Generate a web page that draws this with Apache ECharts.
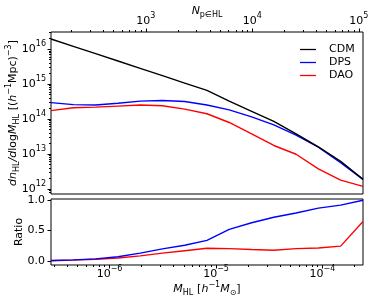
<!DOCTYPE html>
<html><head><meta charset="utf-8">
<script src="https://cdn.jsdelivr.net/npm/echarts@6/dist/echarts.min.js"></script>
<style>html,body{margin:0;padding:0;background:#fff}#c{width:374px;height:301px}</style>
</head><body><div id="c"></div>
<script>
// ---- data ----
const massBins = [2.82e-7, 4.57e-7, 7.40e-7, 1.20e-6, 1.94e-6, 3.14e-6, 5.08e-6, 8.22e-6, 1.33e-5, 2.16e-5, 3.49e-5, 5.65e-5, 9.14e-5, 1.48e-4, 2.40e-4];
const cdmValues = [1.95e16, 1.20e16, 7.41e15, 4.57e15, 2.82e15, 1.74e15, 1.07e15, 6.61e14, 3.24e14, 1.66e14, 8.51e13, 3.72e13, 1.58e13, 6.17e12, 1.86e12];
const dpsValues = [2.95e14, 2.57e14, 2.51e14, 2.82e14, 3.24e14, 3.39e14, 3.16e14, 2.51e14, 1.82e14, 1.15e14, 6.76e13, 3.47e13, 1.55e13, 5.62e12, 1.86e12];
const daoValues = [1.74e14, 2.09e14, 2.19e14, 2.34e14, 2.51e14, 2.40e14, 1.91e14, 1.41e14, 7.94e13, 3.72e13, 1.74e13, 9.77e12, 3.72e12, 1.78e12, 1.17e12];
const dpsRatio = [0.01, 0.02, 0.035, 0.07, 0.13, 0.20, 0.26, 0.34, 0.52, 0.63, 0.72, 0.79, 0.87, 0.92, 1.0];
const daoRatio = [0.005, 0.015, 0.03, 0.05, 0.085, 0.13, 0.17, 0.21, 0.205, 0.19, 0.177, 0.205, 0.215, 0.245, 0.65];
const massTicks = [1e-6, 1e-5, 1e-4];
const densityTicks = [1e12, 1e13, 1e14, 1e15, 1e16];
const npTicks = [1e3, 1e4, 1e5];
const ratioTicks = [0, 0.5, 1.0];
const massRange = [2.82e-7, 2.40e-4];
const densityRange = [7.1e11, 3.1e16];
const ratioRange = [-0.065, 1.02];
const particleMass = 2.19e-9;

const lg = Math.log10;
function minorLogs(lo, hi) {
  const out = [];
  for (let e = Math.floor(lo) - 1; e <= Math.ceil(hi); e++)
    for (let k = 2; k <= 9; k++) { const v = e + lg(k); if (v > lo && v < hi) out.push(v); }
  return out;
}
function powLabel(v) {
  const n = Math.round(v);
  return '{b|10}{s|' + (n < 0 ? '\u2212' + (-n) : n) + '}';
}
const powRich = {
  b: {fontSize: 11, lineHeight: 18, color: '#000', fontFamily: 'DejaVu Sans'},
  s: {fontSize: 8, lineHeight: 8, verticalAlign: 'top', color: '#000', fontFamily: 'DejaVu Sans'}
};
const nameRich = {
  i: {fontSize: 11, fontStyle: 'italic', lineHeight: 16, color: '#000', fontFamily: 'DejaVu Sans'},
  r: {fontSize: 11, lineHeight: 16, color: '#000', fontFamily: 'DejaVu Sans'},
  sub: {fontSize: 8, lineHeight: 10, verticalAlign: 'bottom', color: '#000', fontFamily: 'DejaVu Sans'},
  sup: {fontSize: 8, lineHeight: 8, verticalAlign: 'top', color: '#000', fontFamily: 'DejaVu Sans'}
};

const xr = [lg(massRange[0]), lg(massRange[1])];
const yr = [lg(densityRange[0]), lg(densityRange[1])];
const npr = [lg(massRange[0] / particleMass), lg(massRange[1] / particleMass)];

const tickBase = {show: true, lineStyle: {color: '#000', width: 1}};
function axisCommon(extra) {
  return Object.assign({
    type: 'value', axisLine: {show: false, onZero: false}, splitLine: {show: false},
    axisTick: {show: false}, axisLabel: {show: false}, nameMoveOverlap: false
  }, extra);
}

const chart = echarts.init(document.getElementById('c'), null, {renderer: 'canvas'});
const pairs = (ys, f) => massBins.map((m, i) => [lg(m), f(ys[i])]);
const lineStyle = c => ({color: c, width: 1.4});
const legendLine = 'path://M0,0 L20,0 L20,1.6 L0,1.6 Z';

chart.setOption({
  animation: false,
  textStyle: {fontFamily: 'DejaVu Sans', color: '#000'},
  grid: [
    {left: 51, top: 32, width: 312, height: 162, show: true, borderColor: '#000', borderWidth: 1, backgroundColor: 'transparent', outerBoundsMode: 'none', containLabel: false},
    {left: 51, top: 199, width: 312, height: 66, show: true, borderColor: '#000', borderWidth: 1, backgroundColor: 'transparent', outerBoundsMode: 'none', containLabel: false}
  ],
  legend: {
    data: ['CDM', 'DPS', 'DAO'], orient: 'vertical', left: 295, top: 39,
    icon: legendLine,
    itemWidth: 16, itemHeight: 14, itemGap: 2,
    textStyle: {fontSize: 11, color: '#000', padding: [0, 0, 0, 8]}
  },
  xAxis: [
    axisCommon({gridIndex: 0, position: 'bottom', min: xr[0], max: xr[1]}),
    axisCommon({gridIndex: 0, position: 'top', min: npr[0], max: npr[1],
      axisTick: Object.assign({length: 3.5, customValues: npTicks.map(lg)}, tickBase),
      axisLabel: {show: true, margin: 2, customValues: npTicks.map(lg), formatter: powLabel, rich: powRich},
      name: '{i|N}{sub|p\u2208HL}', nameLocation: 'middle', nameGap: 13, nameTextStyle: {rich: nameRich}}),
    axisCommon({gridIndex: 0, position: 'top', min: npr[0], max: npr[1],
      axisTick: Object.assign({length: 2, customValues: minorLogs(npr[0], npr[1])}, tickBase)}),
    axisCommon({gridIndex: 1, position: 'bottom', min: xr[0], max: xr[1],
      axisTick: Object.assign({length: 3.5, customValues: massTicks.map(lg)}, tickBase),
      axisLabel: {show: true, margin: 0, customValues: massTicks.map(lg), formatter: powLabel, rich: powRich},
      name: '{i|M}{sub|HL} {r|[}{i|h}{sup|\u22121}{i|M}{sub|\u2299}{r|]}', nameLocation: 'middle', nameGap: 16, nameTextStyle: {rich: nameRich}}),
    axisCommon({gridIndex: 1, position: 'bottom', min: xr[0], max: xr[1],
      axisTick: Object.assign({length: 2, customValues: minorLogs(xr[0], xr[1])}, tickBase)})
  ],
  yAxis: [
    axisCommon({gridIndex: 0, position: 'left', min: yr[0], max: yr[1],
      axisTick: Object.assign({length: 3.5, customValues: densityTicks.map(lg)}, tickBase),
      axisLabel: {show: true, margin: 5, customValues: densityTicks.map(lg), formatter: powLabel, rich: powRich},
      name: '{i|dn}{sub|HL}{i|/d}{r|log}{i|M}{sub|HL} {r|[(}{i|h}{sup|\u22121}{r|Mpc)}{sup|\u22123}{r|]}',
      nameLocation: 'middle', nameRotate: 90, nameGap: 30, nameTextStyle: {rich: nameRich}}),
    axisCommon({gridIndex: 0, position: 'left', min: yr[0], max: yr[1],
      axisTick: Object.assign({length: 2, customValues: minorLogs(yr[0], yr[1])}, tickBase)}),
    axisCommon({gridIndex: 1, position: 'left', min: ratioRange[0], max: ratioRange[1],
      axisTick: Object.assign({length: 3.5, customValues: ratioTicks}, tickBase),
      axisLabel: {show: true, margin: 6, fontSize: 11, color: '#000', customValues: ratioTicks, formatter: v => v.toFixed(1)},
      name: 'Ratio', nameLocation: 'middle', nameRotate: 90, nameGap: 26, nameTextStyle: {fontSize: 11, color: '#000'}})
  ],
  series: [
    {name: 'CDM', type: 'line', xAxisIndex: 0, yAxisIndex: 0, symbol: 'none', lineStyle: lineStyle('#000000'), itemStyle: {color: '#000000'}, data: pairs(cdmValues, lg), z: 3},
    {name: 'DPS', type: 'line', xAxisIndex: 0, yAxisIndex: 0, symbol: 'none', lineStyle: lineStyle('#0000ff'), itemStyle: {color: '#0000ff'}, data: pairs(dpsValues, lg), z: 2},
    {name: 'DAO', type: 'line', xAxisIndex: 0, yAxisIndex: 0, symbol: 'none', lineStyle: lineStyle('#ff0000'), itemStyle: {color: '#ff0000'}, data: pairs(daoValues, lg), z: 1},
    {name: 'DPS', type: 'line', xAxisIndex: 3, yAxisIndex: 2, symbol: 'none', lineStyle: lineStyle('#0000ff'), itemStyle: {color: '#0000ff'}, data: pairs(dpsRatio, v => v), z: 2},
    {name: 'DAO', type: 'line', xAxisIndex: 3, yAxisIndex: 2, symbol: 'none', lineStyle: lineStyle('#ff0000'), itemStyle: {color: '#ff0000'}, data: pairs(daoRatio, v => v), z: 1}
  ]
});
</script></body></html>
